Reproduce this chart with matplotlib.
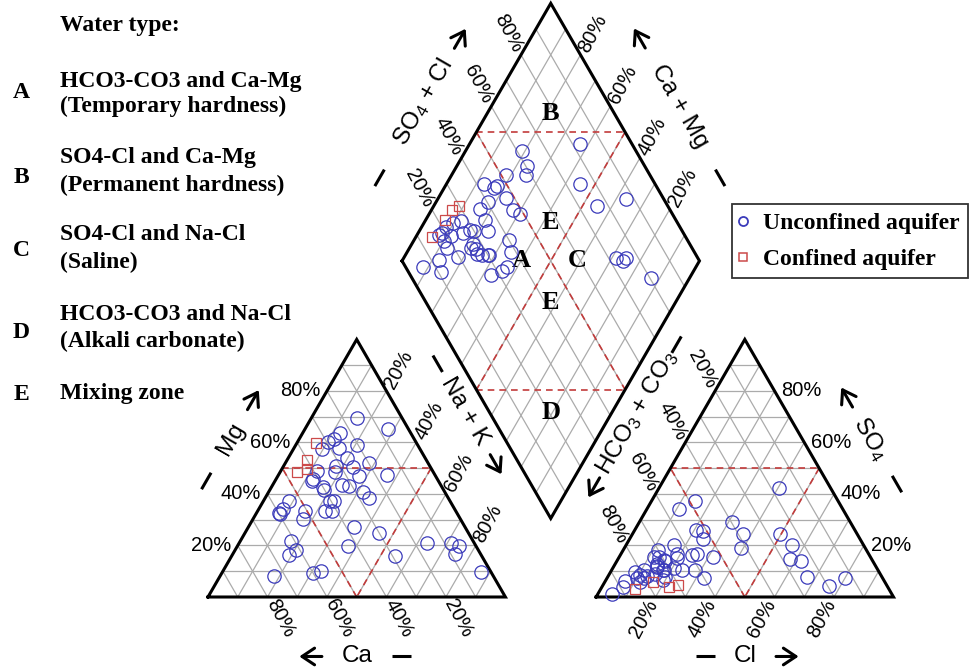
import numpy as np
import matplotlib
matplotlib.use('Agg')
import matplotlib.pyplot as plt
from matplotlib.lines import Line2D

plt.rcParams['mathtext.fontset'] = 'custom'
plt.rcParams['mathtext.rm'] = 'Liberation Sans'
plt.rcParams['mathtext.it'] = 'Liberation Sans:italic'
plt.rcParams['mathtext.bf'] = 'Liberation Sans:bold'

# ---------------- data (percent of meq) ----------------
# Unconfined aquifer samples
unc_na = [7.5, 8.1, 8.2, 8.4, 9.7, 10.3, 11.6, 12.1, 12.3, 12.6, 12.7, 15.2, 15.3, 15.9, 16.8,
          16.9, 17.4, 17.5, 18.1, 18.4, 18.5, 19.0, 19.9, 20.5, 20.7, 22.5, 22.8, 23.1, 23.6, 23.8,
          25.0, 25.9, 27.4, 27.9, 28.1, 30.6, 31.8, 32.8, 34.8, 35.6, 36.5, 37.2, 45.0, 54.8, 63.4,
          71.3, 74.4, 74.8, 87.0]
unc_mg = [32.8, 32.2, 34.1, 37.4, 57.6, 60.2, 61.5, 48.8, 45.8, 44.9, 63.5, 57.9, 69.4, 33.2, 21.9,
          30.3, 42.7, 51.0, 8.1, 41.4, 48.4, 16.3, 54.0, 18.2, 58.9, 37.1, 33.2, 43.6, 50.5, 37.4,
          33.2, 43.2, 46.9, 65.1, 52.1, 9.5, 40.8, 10.2, 38.4, 27.3, 47.3, 19.9, 25.0, 15.9, 20.8,
          21.1, 19.8, 16.7, 9.6]
unc_hco3 = [82.6, 81.1, 78.6, 94.0, 75.7, 82.0, 78.8, 72.4, 87.2, 57.7, 82.2, 73.9, 88.9, 63.8, 54.9,
            71.2, 53.5, 59.5, 80.3, 48.2, 70.0, 38.2, 64.3, 74.4, 72.9, 73.0, 52.7, 65.2, 39.7, 73.4,
            41.7, 72.0, 53.0, 70.0, 69.8, 51.2, 60.1, 72.7, 61.6, 68.4, 65.9, 17.3, 25.1, 24.0, 12.7,
            27.4, 25.8, 24.1, 19.5]
unc_so4 = [7.2, 8.5, 10.4, 1.0, 9.0, 9.8, 8.1, 10.4, 6.3, 16.7, 6.0, 11.5, 3.9, 20.2, 34.2,
           15.4, 26.0, 16.3, 7.2, 37.4, 14.3, 24.5, 16.7, 6.5, 13.0, 7.8, 22.4, 15.1, 29.0, 12.0,
           18.9, 10.4, 15.6, 18.2, 13.8, 25.5, 7.2, 15.4, 10.4, 11.1, 10.4, 42.4, 7.8, 14.1, 7.2,
           14.7, 24.5, 20.2, 4.2]
# Confined aquifer samples
con_na = [8.3, 6.9, 6.4, 5.6]
con_mg = [49.7, 53.0, 59.6, 48.4]
con_hco3 = [70.2, 73.4, 77.8, 85.2]
con_so4 = [4.6, 3.9, 5.9, 3.3]

tick_values = [20, 40, 60, 80]
tick_labels = ['20%', '40%', '60%', '80%']

water_types = [
    ('A', 'HCO3-CO3 and Ca-Mg', '(Temporary hardness)'),
    ('B', 'SO4-Cl and Ca-Mg', '(Permanent hardness)'),
    ('C', 'SO4-Cl and Na-Cl', '(Saline)'),
    ('D', 'HCO3-CO3 and Na-Cl', '(Alkali carbonate)'),
    ('E', 'Mixing zone', None),
]
legend_labels = ['Unconfined aquifer', 'Confined aquifer']

# ---------------- geometry ----------------
H = np.sqrt(3) / 2
GAP = 30.5
OFF_R = 100 + GAP
DLX, DLY = 100 + GAP / 2 - 50, GAP * H + 100 * H   # diamond left vertex


def cat_xy(mg, na):
    mg = np.asarray(mg, float); na = np.asarray(na, float)
    return na + mg / 2, mg * H


def an_xy(so4, cl):
    so4 = np.asarray(so4, float); cl = np.asarray(cl, float)
    return OFF_R + cl + so4 / 2, so4 * H


def dia_xy(a, c):
    a = np.asarray(a, float); c = np.asarray(c, float)
    return DLX + 0.5 * (a + c), DLY + H * (a - c)


K = 2.974  # pixels per unit
fig = plt.figure(figsize=(9.71, 6.72), dpi=100)
ax = fig.add_axes([0, 0, 1, 1])
ax.set_xlim(-208 / K, (971 - 208) / K)
ax.set_ylim(-75 / K, (672 - 75) / K)
ax.axis('off')

GRID = dict(color='#ababab', lw=0.9, zorder=1)
RED = dict(color='#c23b3b', lw=1.2, ls=(0, (4, 3)), zorder=2)
EDGE = dict(color='black', lw=2.2, zorder=3, solid_joinstyle='miter')


def seg(f, p1, p2, **kw):
    x1, y1 = f(*p1); x2, y2 = f(*p2)
    ax.plot([x1, x2], [y1, y2], **kw)


for p in range(10, 100, 10):
    for f in (cat_xy, an_xy):
        seg(f, (p, 0), (p, 100 - p), **GRID)
        seg(f, (0, p), (100 - p, p), **GRID)
        seg(f, (0, 100 - p), (100 - p, 0), **GRID)
    seg(dia_xy, (p, 0), (p, 100), **GRID)
    seg(dia_xy, (0, p), (100, p), **GRID)

for f in (cat_xy, an_xy):
    seg(f, (50, 0), (50, 50), **RED)
    seg(f, (50, 50), (0, 50), **RED)
    seg(f, (0, 50), (50, 0), **RED)
seg(dia_xy, (50, 0), (100, 50), **RED)
seg(dia_xy, (0, 50), (50, 100), **RED)
seg(dia_xy, (50, 0), (50, 100), **RED)
seg(dia_xy, (100, 50), (0, 50), **RED)

for f, pts in ((cat_xy, [(0, 0), (100, 0), (0, 100), (0, 0)]),
               (an_xy, [(0, 0), (100, 0), (0, 100), (0, 0)]),
               (dia_xy, [(0, 0), (100, 0), (100, 100), (0, 100), (0, 0)])):
    xs, ys = f([q[0] for q in pts], [q[1] for q in pts])
    ax.plot(xs, ys, **EDGE)

# ---------------- tick labels ----------------
TICK = dict(fontsize=14.5, family='Liberation Sans', ha='center', va='center')
EXT = 8.4
for v, lab in zip(tick_values, tick_labels):
    # Mg (left side of cation triangle)
    x, y = cat_xy(v, 0)
    ax.text(x - 2.3, y, lab, fontsize=14.5, family='Liberation Sans', ha='right', va='center')
    # Na+K (right side of cation triangle)
    x, y = cat_xy(100 - v, v)
    ax.text(x + EXT * 0.5, y + EXT * H, lab, rotation=62, **TICK)
    # Ca (bottom of cation triangle)
    x, y = cat_xy(0, 100 - v)
    ax.text(x + EXT * 0.5, y - EXT * H, lab, rotation=-62, **TICK)
    # HCO3+CO3 (left side of anion triangle)
    x, y = an_xy(100 - v, 0)
    ax.text(x - EXT * 0.5, y + EXT * H, lab, rotation=-62, **TICK)
    # SO4 (right side of anion triangle)
    x, y = an_xy(v, 100 - v)
    ax.text(x + 2.3, y, lab, fontsize=14.5, family='Liberation Sans', ha='left', va='center')
    # Cl (bottom of anion triangle)
    x, y = an_xy(0, v)
    ax.text(x - EXT * 0.5, y - EXT * H, lab, rotation=62, **TICK)
    # SO4+Cl (upper-left side of diamond)
    x, y = dia_xy(v, 0)
    ax.text(x - EXT * 0.5, y + EXT * H, lab, rotation=-62, **TICK)
    # Ca+Mg (upper-right side of diamond)
    x, y = dia_xy(100, 100 - v)
    ax.text(x + EXT * 0.5, y + EXT * H, lab, rotation=62, **TICK)


# ---------------- axis titles with arrows ----------------
def axis_title(base, u, n, dist, text, rot, lab_off, arr_off, dash_off, fs=17.5):
    bx, by = base
    u = np.array(u, float); n = np.array(n, float)
    c = np.array([bx, by]) + n * dist
    lp = c + u * lab_off
    ax.text(lp[0], lp[1], text, rotation=rot, fontsize=fs, family='Liberation Sans',
            ha='center', va='center')
    ac = c + u * arr_off
    ax.annotate('', xy=tuple(ac + u * 3.8), xytext=tuple(ac - u * 3.8),
                arrowprops=dict(arrowstyle='->,head_length=0.45,head_width=0.3', lw=2.2,
                                color='black', shrinkA=0, shrinkB=0, mutation_scale=20))
    dc = c + u * dash_off
    ax.plot([dc[0] - u[0] * 3.2, dc[0] + u[0] * 3.2], [dc[1] - u[1] * 3.2, dc[1] + u[1] * 3.2],
            color='black', lw=2.2, solid_capstyle='butt')


axis_title(cat_xy(50, 0), (0.5, H), (-H, 0.5), 20.0, 'Mg', 60, 0, 15, -16.5)
axis_title(cat_xy(50, 50), (0.5, -H), (H, 0.5), 19.5, 'Na + K', -60, -11.0, 9.8, -29.3)
axis_title(cat_xy(0, 50), (-1, 0), (0, -1), 20.0, 'Ca', 0, 0, 15.5, -15)
axis_title(an_xy(50, 0), (-0.5, -H), (-H, 0.5), 19.0, 'HCO$_3$ + CO$_3$', 60, -10.5, 18.5, -37)
axis_title(an_xy(50, 50), (-0.5, H), (H, 0.5), 20.0, 'SO$_4$', -60, 0, 16, -17.7)
axis_title(an_xy(0, 50), (1, 0), (0, -1), 20.0, 'Cl', 0, 0, 14.3, -13.3)
axis_title(dia_xy(50, 0), (0.5, H), (-H, 0.5), 20.5, 'SO$_4$ + Cl', 60, 0, 24.5, -29.6)
axis_title(dia_xy(100, 50), (-0.5, H), (H, 0.5), 20.0, 'Ca + Mg', -60, -1.7, 24.9, -29.3)

# ---------------- zone letters ----------------
ZONE = dict(fontsize=19, family='Liberation Serif', weight='bold', ha='center', va='center')
for letter, a, c in (('B', 78.7, 21.3), ('E', 57.5, 42.5), ('A', 40, 40), ('C', 59, 59),
                     ('E', 41.9, 58.1), ('D', 20.5, 79.5)):
    x, y = dia_xy(a, c)
    ax.text(x, y, letter, **ZONE)

# ---------------- samples ----------------
BLUE = '#3b3bbb'
REDM = '#cc4a4a'
unc_ca = 100 - np.array(unc_na) - np.array(unc_mg)
unc_cl = 100 - np.array(unc_hco3) - np.array(unc_so4)
con_cl = 100 - np.array(con_hco3) - np.array(con_so4)
MK_O = dict(ls='none', marker='o', ms=9.6, mfc='none', mec=BLUE, mew=0.9, zorder=5)
MK_S = dict(ls='none', marker='s', ms=7.4, mfc='none', mec=REDM, mew=0.9, zorder=6)

ax.plot(*cat_xy(unc_mg, unc_na), **MK_O)
ax.plot(*an_xy(unc_so4, unc_cl), **MK_O)
ax.plot(*dia_xy(100 - np.array(unc_hco3), unc_na), **MK_O)
ax.plot(*cat_xy(con_mg, con_na), **MK_S)
ax.plot(*an_xy(con_so4, con_cl), **MK_S)
ax.plot(*dia_xy(100 - np.array(con_hco3), con_na), **MK_S)

# ---------------- left text block ----------------
SERIF = dict(family='Liberation Serif', weight='bold', fontsize=17)
fig.text(60 / 971, 1 - 26 / 672, 'Water type:', ha='left', va='center', **SERIF)
rows = [(81, 106, 92), (158, 185, 178), (235, 262, 250), (314, 341, 332), (393, None, 394)]
for (letter, l1, l2), (y1, y2, yl) in zip(water_types, rows):
    fig.text(21 / 971, 1 - yl / 672, letter, ha='center', va='center', **SERIF)
    fig.text(60 / 971, 1 - y1 / 672, l1, ha='left', va='center', **SERIF)
    if l2:
        fig.text(60 / 971, 1 - y2 / 672, l2, ha='left', va='center', **SERIF)

# ---------------- legend ----------------
handles = [Line2D([], [], ls='none', marker='o', ms=6.5, mfc='none', mec=BLUE, mew=1.3),
           Line2D([], [], ls='none', marker='s', ms=6.0, mfc='none', mec=REDM, mew=1.1)]
leg = ax.legend(handles, legend_labels, loc='upper left',
                bbox_to_anchor=(732 / 971, 1 - 204 / 672), bbox_transform=fig.transFigure,
                frameon=True, fancybox=False, borderaxespad=0, borderpad=0.35,
                handlelength=0.2, handletextpad=0.75, labelspacing=0.62,
                prop=dict(family='Liberation Serif', weight='bold', size=17))
leg.get_frame().set_edgecolor('black')
leg.get_frame().set_linewidth(1.3)

fig.savefig('out.png', dpi=100)
